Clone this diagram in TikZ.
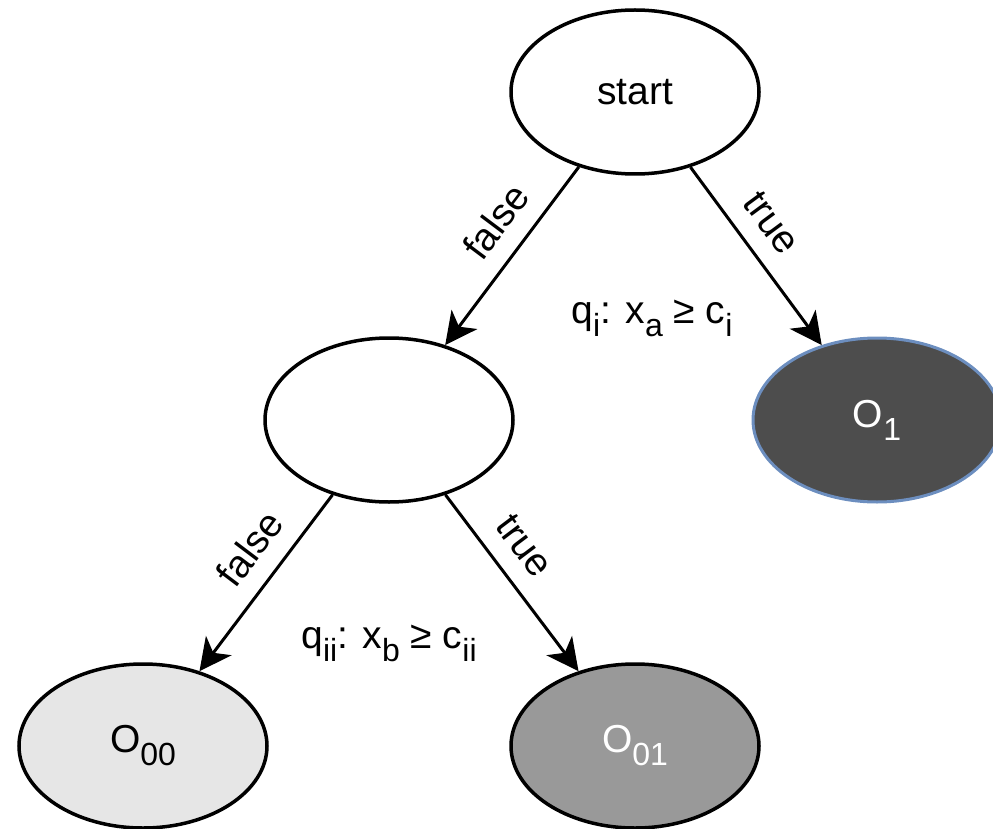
\documentclass[tikz,border=0pt]{standalone}
\usepackage{fontspec}
\setmainfont{Liberation Sans}
\usetikzlibrary{shapes.geometric,arrows.meta}
\definecolor{darkfill}{HTML}{4D4D4D}
\definecolor{midfill}{HTML}{999999}
\definecolor{lightfill}{HTML}{E6E6E6}
\definecolor{blueline}{HTML}{6C8EBF}
\newcommand\lsub[1]{\raisebox{-13pt}{\fontsize{32}{32}\selectfont #1}}
\tikzset{
  state/.style={ellipse, draw=black, line width=3.5pt, fill=white,
    minimum width=248pt, minimum height=164pt, inner sep=0pt,
    font=\fontsize{39}{47}\selectfont},
  arr/.style={line width=3pt, -{Stealth[length=32pt, width=32pt, inset=9pt]}},
  lab/.style={sloped, inner sep=0pt, font=\fontsize{39}{47}\selectfont},
  cond/.style={inner sep=0pt, anchor=base, font=\fontsize{39}{47}\selectfont}
}
\begin{document}
\begin{tikzpicture}[x=1pt,y=-1pt]
\useasboundingbox (0,0) rectangle (993,829);
\clip (0,0) rectangle (993,829);
\node[state] (start) at (635,92) {start};
\node[state] (mid) at (389,420) {};
\node[state, draw=blueline, line width=3pt, fill=darkfill, text=white] (o1) at (877,420) {O\lsub{1}};
\node[state, fill=lightfill] (o00) at (143,746) {O\lsub{00}};
\node[state, fill=midfill, text=white] (o01) at (635,746) {O\lsub{01}};
\draw[arr] (start) -- node[lab, pos=0.42, above=18pt] {false} (mid);
\draw[arr] (start) -- node[lab, pos=0.42, above=18pt] {true} (o1);
\draw[arr] (mid) -- node[lab, pos=0.42, above=18pt] {false} (o00);
\draw[arr] (mid) -- node[lab, pos=0.40, above=18pt] {true} (o01);
\node[cond] (qi) at (652,323) {q\lsub{i}: x\lsub{a} ≥ c\lsub{i}};
\node[cond] (qii) at (389,648) {q\lsub{ii}: x\lsub{b} ≥ c\lsub{ii}};
\end{tikzpicture}
\end{document}
